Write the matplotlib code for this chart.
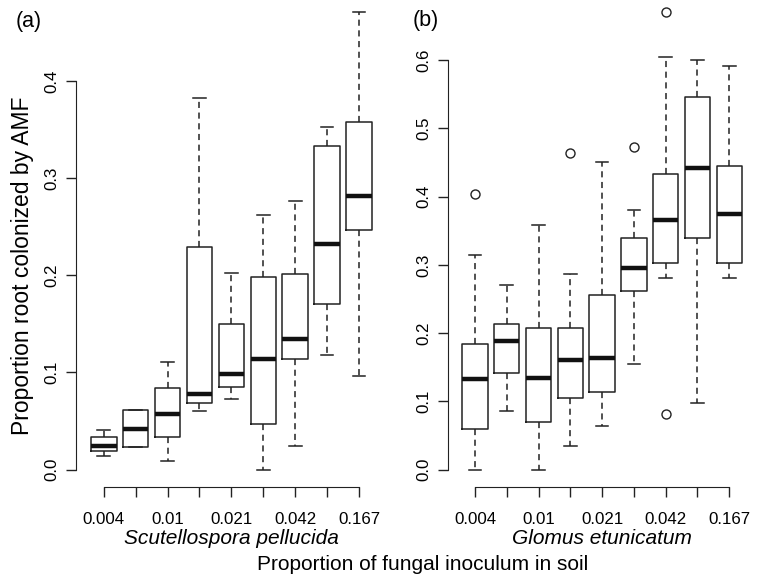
import numpy as np
import matplotlib.pyplot as plt

plt.rcParams['font.family'] = ['Liberation Sans', 'DejaVu Sans']

doses = ["0.004", "", "0.01", "", "0.021", "", "0.042", "", "0.167"]

# (a) Scutellospora pellucida
sp_lo  = [0.014, 0.023, 0.009, 0.060, 0.073, 0.000, 0.024, 0.118, 0.096]
sp_q1  = [0.019, 0.023, 0.033, 0.069, 0.085, 0.047, 0.114, 0.170, 0.246]
sp_med = [0.024, 0.042, 0.057, 0.078, 0.098, 0.114, 0.134, 0.232, 0.282]
sp_q3  = [0.033, 0.061, 0.084, 0.229, 0.150, 0.198, 0.201, 0.333, 0.358]
sp_hi  = [0.041, 0.061, 0.111, 0.382, 0.202, 0.262, 0.276, 0.353, 0.471]
sp_out = [[], [], [], [], [], [], [], [], []]

# (b) Glomus etunicatum
ge_lo  = [0.000, 0.086, 0.000, 0.035, 0.064, 0.154, 0.280, 0.098, 0.280]
ge_q1  = [0.060, 0.142, 0.070, 0.105, 0.114, 0.261, 0.302, 0.340, 0.302]
ge_med = [0.132, 0.188, 0.134, 0.161, 0.164, 0.295, 0.365, 0.442, 0.375]
ge_q3  = [0.184, 0.214, 0.208, 0.208, 0.256, 0.340, 0.433, 0.546, 0.445]
ge_hi  = [0.315, 0.271, 0.358, 0.286, 0.451, 0.381, 0.605, 0.600, 0.592]
ge_out = [[0.404], [], [], [0.464], [], [0.473], [0.670, 0.082], [], []]


def make_stats(lo, q1, med, q3, hi, out):
    return [dict(whislo=a, q1=b, med=c, q3=d, whishi=e, fliers=f)
            for a, b, c, d, e, f in zip(lo, q1, med, q3, hi, out)]


def draw_panel(ax, stats, ymax, yticks):
    pos = np.arange(1, len(stats) + 1)
    ax.bxp(stats, positions=pos, widths=0.8, capwidths=0.4,
           boxprops=dict(color='#222222', lw=1.1),
           whiskerprops=dict(color='#222222', lw=1.1, linestyle=(0, (4, 3))),
           capprops=dict(color='#222222', lw=1.1),
           medianprops=dict(color='#111111', lw=3.2, solid_capstyle='butt'),
           flierprops=dict(marker='o', markerfacecolor='none',
                           markeredgecolor='#222222', markersize=6.5, mew=1.0))
    ax.set_xlim(0.14, 9.86)
    ax.set_ylim(-0.04 * ymax / 1.08, ymax + 0.04 * ymax / 1.08)
    for s in ['top', 'right']:
        ax.spines[s].set_visible(False)
    ax.spines['left'].set_bounds(yticks[0], yticks[-1])
    ax.spines['bottom'].set_bounds(1, 9)
    ax.spines['left'].set_color('#222222')
    ax.spines['bottom'].set_color('#222222')
    ax.set_xticks(pos)
    ax.set_xticklabels(doses)
    ax.set_yticks(yticks)
    ax.set_yticklabels(["%.1f" % v for v in yticks], rotation=90, va='center')
    ax.tick_params(axis='x', length=7, width=1, pad=11, labelsize=12.2, color='#222222')
    ax.tick_params(axis='y', length=7, width=1, pad=5, labelsize=12.2, color='#222222')
    ax.set_facecolor('none')
    return ax


fig = plt.figure(figsize=(7.58, 5.75), dpi=100)
ax1 = fig.add_axes([0.1007, 0.1539, 0.4091, 0.8543])
ax2 = fig.add_axes([0.5906, 0.1539, 0.4075, 0.8543])

draw_panel(ax1, make_stats(sp_lo, sp_q1, sp_med, sp_q3, sp_hi, sp_out),
           0.4706, [0.0, 0.1, 0.2, 0.3, 0.4])
draw_panel(ax2, make_stats(ge_lo, ge_q1, ge_med, ge_q3, ge_hi, ge_out),
           0.6701, [0.0, 0.1, 0.2, 0.3, 0.4, 0.5, 0.6])

# species names under each panel
ax1.text(0.5, -0.105, "Scutellospora pellucida", transform=ax1.transAxes,
         style='italic', fontsize=15, ha='center', va='center')
ax2.text(0.5, -0.105, "Glomus etunicatum", transform=ax2.transAxes,
         style='italic', fontsize=15, ha='center', va='center')

fig.text(0.030, 0.538, "Proportion root colonized by AMF", fontsize=16.5,
         rotation=90, ha='center', va='center')
fig.text(0.02, 0.962, "(a)", fontsize=15.5, ha='left', va='center')
fig.text(0.545, 0.964, "(b)", fontsize=15.5, ha='left', va='center')
fig.text(0.557, 0.019, "Proportion of fungal inoculum in soil", fontsize=15,
         ha='center', va='center')

fig.savefig("out.png", dpi=100)
